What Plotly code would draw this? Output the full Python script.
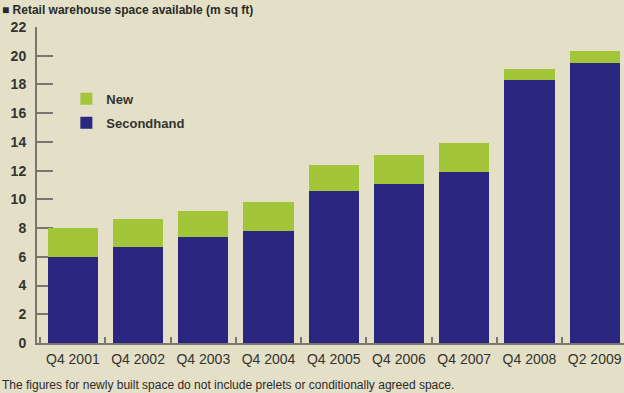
import plotly.graph_objects as go

categories = ["Q4 2001", "Q4 2002", "Q4 2003", "Q4 2004", "Q4 2005",
              "Q4 2006", "Q4 2007", "Q4 2008", "Q2 2009"]
secondhand = [6.0, 6.7, 7.4, 7.8, 10.6, 11.1, 11.9, 18.3, 19.5]
new = [2.0, 1.9, 1.8, 2.0, 1.8, 2.0, 2.0, 0.8, 0.8]
y_ticks = list(range(0, 23, 2))

BG = "#e4e0c8"
BLUE = "#2b2680"
GREEN = "#a3c53a"
TXT = "#33332f"

fig = go.Figure()
fig.add_trace(go.Bar(x=categories, y=secondhand, name="Secondhand",
                     legendgroup="s", legendrank=2,
                     marker=dict(color=BLUE, line=dict(width=0))))
fig.add_trace(go.Bar(x=categories, y=new, name="New", legendgroup="n",
                     legendrank=1,
                     marker=dict(color=GREEN, line=dict(width=0))))

fig.update_layout(
    barmode="stack",
    bargap=0.23,
    width=624, height=393,
    margin=dict(l=37, r=0, t=27, b=50),
    paper_bgcolor=BG, plot_bgcolor=BG,
    showlegend=True,
    legend=dict(x=0.05, y=0.82, xanchor="left", yanchor="top",
                traceorder="grouped", bgcolor="rgba(0,0,0,0)",
                font=dict(family="Liberation Sans", size=13, color=TXT,
                          weight="bold"),
                itemwidth=30, tracegroupgap=4),
    font=dict(family="Liberation Sans", color=TXT),
)
fig.update_xaxes(
    type="category", range=[-0.55, 8.45],
    showline=True, linecolor="#77776f", linewidth=2,
    ticks="inside", tickson="boundaries", ticklen=6, tickwidth=1.5,
    tickcolor="#77776f", showgrid=False,
    tickfont=dict(family="Liberation Sans", size=14, color=TXT),
    ticklabelstandoff=2,
)
fig.update_yaxes(
    range=[0, 22], tickvals=y_ticks,
    showline=True, linecolor="#77776f", linewidth=2,
    ticks="inside", ticklen=16, tickwidth=1.5, tickcolor="#77776f",
    showgrid=False, zeroline=False, layer="below traces",
    tickfont=dict(family="Liberation Sans", size=14, color=TXT,
                  weight="bold"),
    ticklabelstandoff=6,
)
fig.add_annotation(
    text="<b>■ Retail warehouse space available (m sq ft)</b>",
    xref="paper", yref="paper", x=-0.063, y=1.082,
    xanchor="left", yanchor="top", showarrow=False,
    font=dict(family="Liberation Sans", size=12, color="#2a2a28"),
)
fig.add_annotation(
    text="The figures for newly built space do not include prelets or conditionally agreed space.",
    xref="paper", yref="paper", x=-0.063, y=-0.104,
    xanchor="left", yanchor="top", showarrow=False,
    font=dict(family="Liberation Sans", size=12, color="#2a2a28"),
)
fig.write_html("out.html")
